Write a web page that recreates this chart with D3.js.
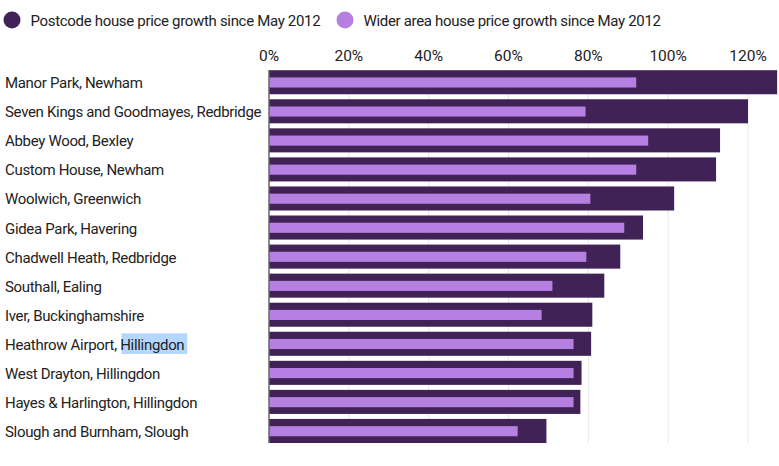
<!DOCTYPE html>
<html>
<head>
<meta charset="utf-8">
<script src="https://cdn.jsdelivr.net/npm/d3@7"></script>
<style>
  html, body { margin: 0; padding: 0; background: #fff; }
  text { font-family: Roboto, sans-serif; font-size: 15px; letter-spacing: -0.32px; fill: #222; }
  .tick-label { font-size: 15.5px; letter-spacing: 0; }
</style>
</head>
<body>
<svg id="chart" width="779" height="466"></svg>
<script>
var places = [
    "Manor Park, Newham",
    "Seven Kings and Goodmayes, Redbridge",
    "Abbey Wood, Bexley",
    "Custom House, Newham",
    "Woolwich, Greenwich",
    "Gidea Park, Havering",
    "Chadwell Heath, Redbridge",
    "Southall, Ealing",
    "Iver, Buckinghamshire",
    "Heathrow Airport, Hillingdon",
    "West Drayton, Hillingdon",
    "Hayes & Harlington, Hillingdon",
    "Slough and Burnham, Slough"
];
var postcodeGrowth = [127.3, 120, 113, 112, 101.5, 93.7, 88, 84, 81, 80.7, 78.3, 78, 69.5];
var widerGrowth = [92, 79.3, 95, 92, 80.5, 89, 79.5, 71, 68.3, 76.3, 76.3, 76.3, 62.3];
var ticks = [0, 20, 40, 60, 80, 100, 120];
var legendLabels = ["Postcode house price growth since May 2012", "Wider area house price growth since May 2012"];

var dark = "#412257";
var light = "#b67fe2";

var svg = d3.select("#chart");

var x = d3.scaleLinear().domain([0, 120]).range([269, 748]);
var y = d3.scaleBand().domain(places).range([70.2, 443]).paddingInner(0.172).paddingOuter(0);

// gridlines
svg.append("g").selectAll("line")
    .data(ticks.slice(1))
    .enter().append("line")
    .attr("x1", d => x(d)).attr("x2", d => x(d))
    .attr("y1", 70).attr("y2", 443)
    .attr("stroke", "#e6e6e6");

// axis labels
svg.append("g").selectAll("text")
    .data(ticks)
    .enter().append("text")
    .attr("class", "tick-label")
    .attr("x", d => x(d))
    .attr("y", 61)
    .attr("text-anchor", "middle")
    .text(d => d + "%");

// bars
svg.append("g").selectAll("rect")
    .data(places)
    .enter().append("rect")
    .attr("x", x(0))
    .attr("y", d => y(d))
    .attr("width", (d, i) => x(postcodeGrowth[i]) - x(0))
    .attr("height", y.bandwidth())
    .attr("fill", dark);

svg.append("g").selectAll("rect")
    .data(places)
    .enter().append("rect")
    .attr("x", x(0))
    .attr("y", d => y(d) + y.bandwidth() * 0.3)
    .attr("width", (d, i) => x(widerGrowth[i]) - x(0))
    .attr("height", y.bandwidth() * 0.42)
    .attr("fill", light);

// baseline
svg.append("line")
    .attr("x1", x(0)).attr("x2", x(0))
    .attr("y1", 70).attr("y2", 443)
    .attr("stroke", "#666").attr("stroke-width", 1.5);

// highlight behind the selected word
svg.append("rect")
    .attr("x", 121.5).attr("y", 333.3)
    .attr("width", 65.7).attr("height", 20.7)
    .attr("fill", "#b4d7ff");

// place labels
svg.append("g").selectAll("text")
    .data(places)
    .enter().append("text")
    .attr("x", 5)
    .attr("y", d => y(d) + y.bandwidth() / 2 + 6)
    .text(d => d);

// legend
var legendX = [12, 345];
legendLabels.forEach((label, i) => {
    svg.append("circle")
        .attr("cx", legendX[i]).attr("cy", 20).attr("r", 8.5)
        .attr("fill", i == 0 ? dark : light);
    svg.append("text")
        .attr("x", legendX[i] + 18.5).attr("y", 25.5)
        .text(label);
});
</script>
</body>
</html>
